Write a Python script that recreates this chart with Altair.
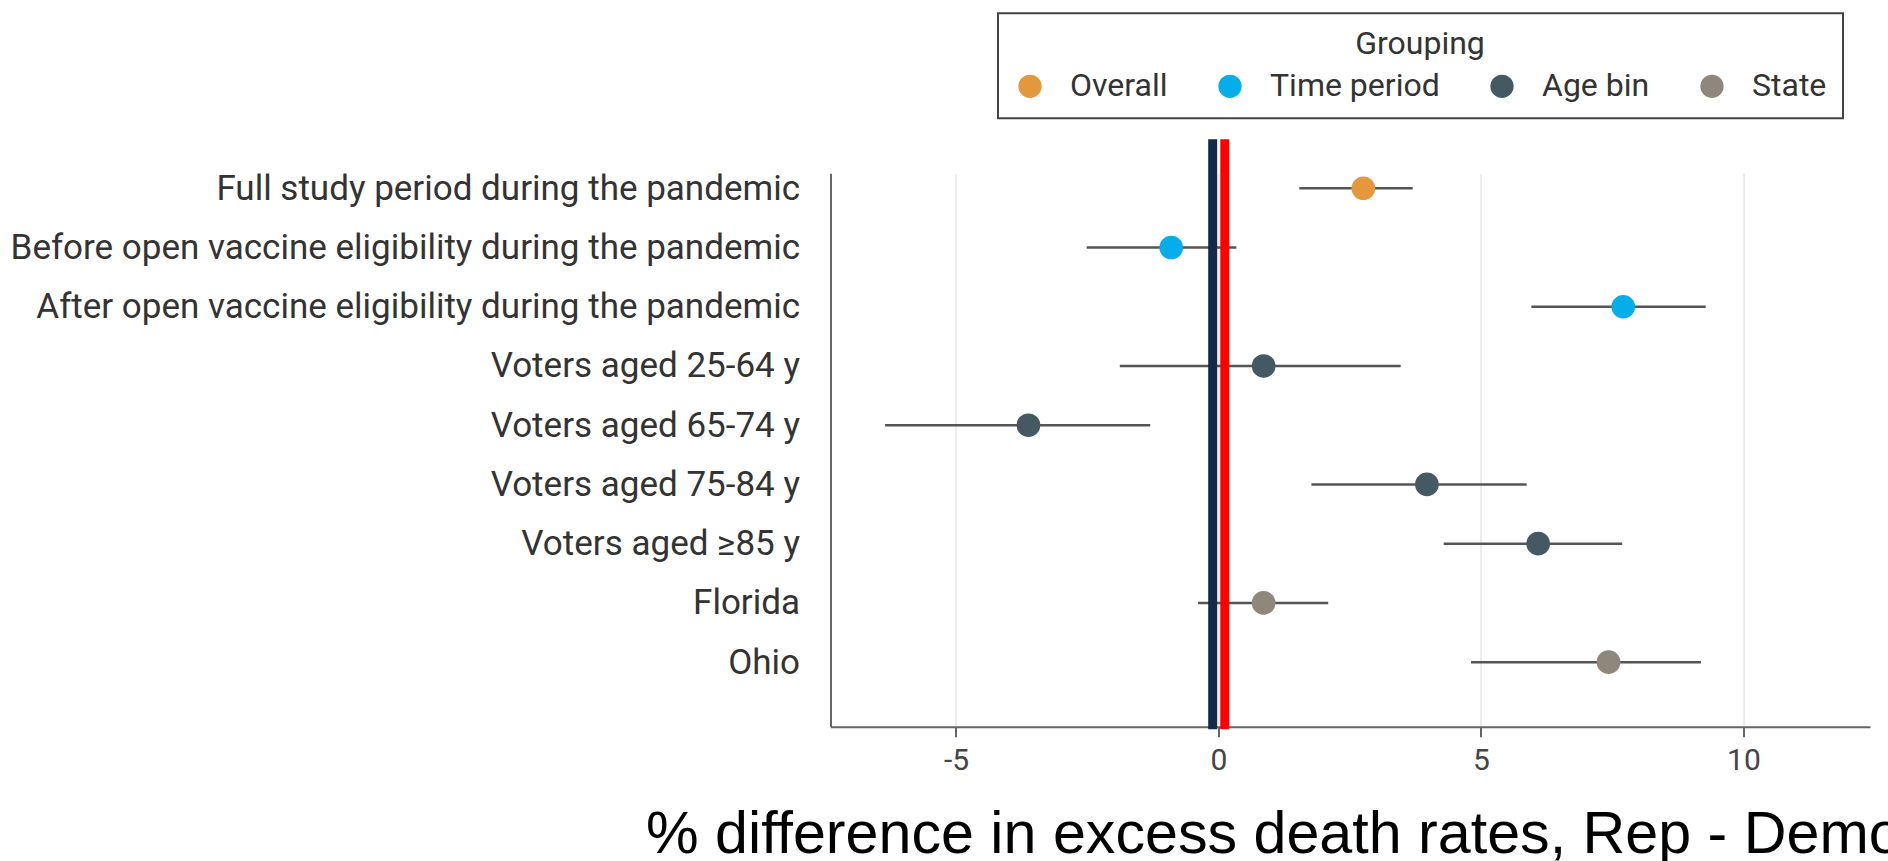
import json
import altair as alt
import pandas as pd

# Subgroup estimates with 95% confidence intervals
labels = [
    "Full study period during the pandemic",
    "Before open vaccine eligibility during the pandemic",
    "After open vaccine eligibility during the pandemic",
    "Voters aged 25-64 y",
    "Voters aged 65-74 y",
    "Voters aged 75-84 y",
    "Voters aged \u226585 y",
    "Florida",
    "Ohio",
]
groups = ["Overall", "Time period", "Time period", "Age bin", "Age bin",
          "Age bin", "Age bin", "State", "State"]
estimate = [2.76, -0.90, 7.71, 0.86, -3.62, 3.97, 6.09, 0.86, 7.43]
lower = [1.54, -2.51, 5.96, -1.88, -6.35, 1.77, 4.29, -0.39, 4.81]
upper = [3.70, 0.34, 9.28, 3.47, -1.30, 5.87, 7.69, 2.09, 9.19]

group_order = ["Overall", "Time period", "Age bin", "State"]
group_colors = ["#E3983D", "#05AEEA", "#455963", "#8D877C"]

# Reference lines near zero
ref_x = [-0.11, 0.12]
ref_colors = ["#132B48", "#FF0000"]

x_ticks = [-5, 0, 5, 10]

W, H = 1039.5, 553.4

df = pd.DataFrame({
    "idx": list(range(len(labels))),
    "label": labels,
    "group": groups,
    "est": estimate,
    "lo": lower,
    "hi": upper,
})
ref_df = pd.DataFrame({"ref": ref_x, "col": ref_colors})

x_scale = alt.Scale(domain=[-7.39, 12.41], nice=False, zero=False)
y_scale = alt.Scale(domain=[-0.253, 9.09], reverse=True, nice=False, zero=False)

x_axis = alt.Axis(
    values=x_ticks, labelExpr="toString(datum.value)",
    grid=True, gridColor="#dcdcdc", gridWidth=1,
    tickColor="#666666", tickWidth=2, tickSize=10,
    domainColor="#666666", domainWidth=2,
    labelFont="Roboto", labelFontSize=30, labelColor="#444444", labelPadding=9,
    title="% difference in excess death rates, Rep - Democrat",
    titleFont="Liberation Sans", titleFontSize=59.2, titleFontWeight="normal",
    titleColor="#000000", titleAnchor="start", titleAlign="left",
    titleBaseline="alphabetic", titleX=-185, titleY=126,
)
y_axis = alt.Axis(
    values=list(range(len(labels))),
    labelExpr=json.dumps(labels, ensure_ascii=False) + "[datum.value]",
    ticks=False, grid=False, title=None,
    labelFont="Roboto", labelFontSize=35, labelColor="#333333",
    labelPadding=31, labelLimit=900,
    domainColor="#666666", domainWidth=2,
)

ci = alt.Chart(df).mark_rule(color="#555555", strokeWidth=2.5).encode(
    x=alt.X("lo:Q", scale=x_scale, axis=x_axis),
    x2="hi:Q",
    y=alt.Y("idx:Q", scale=y_scale, axis=y_axis),
)

refs = alt.Chart(ref_df).mark_rule(strokeWidth=9).encode(
    x=alt.X("ref:Q", scale=x_scale, axis=x_axis),
    y=alt.value(-34),
    y2=alt.value(H + 2.5),
    stroke=alt.Stroke("col:N", scale=None, legend=None),
)

points = alt.Chart(df).mark_circle(size=560, opacity=1).encode(
    x=alt.X("est:Q", scale=x_scale, axis=x_axis),
    y=alt.Y("idx:Q", scale=y_scale, axis=y_axis),
    color=alt.Color(
        "group:N",
        scale=alt.Scale(domain=group_order, range=group_colors),
        legend=alt.Legend(
            title="Grouping", orient="none", legendX=167.5, legendY=-160,
            direction="horizontal", columns=4, columnPadding=46,
            titleAnchor="middle", titleFont="Roboto", titleFontSize=32,
            titleFontWeight="normal", titleColor="#333333", titlePadding=9,
            labelFont="Roboto", labelFontSize=32, labelColor="#333333",
            labelOffset=24, labelLimit=400,
            symbolType="circle", symbolSize=540, symbolStrokeWidth=0,
            padding=16, strokeColor="#444444",
        ),
    ),
)

chart = (
    alt.layer(ci, refs, points)
    .properties(
        width=W, height=H,
        autosize=alt.AutoSizeParams(type="none"),
        padding={"left": 830.5, "right": 18, "top": 173.3, "bottom": 134.3},
        background="white",
    )
    .configure_view(stroke=None)
    .configure_legend(strokeWidth=2)
)

chart.save("out.html", embed_options={"renderer": "svg", "actions": False})
